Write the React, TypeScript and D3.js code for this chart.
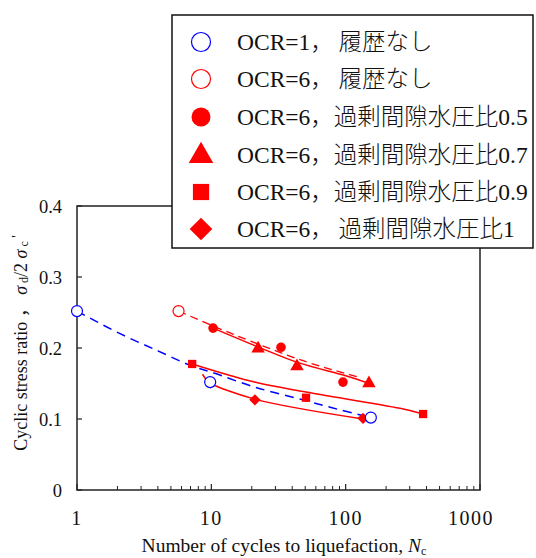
import React from "react";
import * as d3 from "d3";

// ---- data (N = cycles, R = cyclic stress ratio) ----
const blueOpenN = [1, 9.8, 154];
const blueOpenR = [0.252, 0.152, 0.102];
const redOpenN = [5.7];
const redOpenR = [0.252];
const circleN = [10.3, 33, 95.5];
const circleR = [0.228, 0.201, 0.152];
const triN = [22.3, 43.4, 149];
const triR = [0.2, 0.175, 0.151];
const sqN = [7.2, 50.7, 377];
const sqR = [0.1775, 0.13, 0.107];
const diaN = [9.9, 21.1, 134.6];
const diaR = [0.151, 0.127, 0.101];

// trend lines
const blueCurveN = [1, 2, 4, 7.3, 10, 21, 50, 90, 154];
const blueCurveR = [0.252, 0.222, 0.196, 0.174, 0.166, 0.145, 0.126, 0.113, 0.102];
const redDashN = [5.7, 10.3, 20, 50, 100, 130];
const redDashR = [0.252, 0.231, 0.209, 0.181, 0.164, 0.158];
const upperN = [10.3, 22, 45, 100, 150];
const upperR = [0.228, 0.202, 0.179, 0.161, 0.15];
const sqLineN = [7.2, 21, 50.7, 254, 377];
const sqLineR = [0.1775, 0.152, 0.138, 0.115, 0.107];
const diaLineN = [8.6, 9.3, 9.9, 21, 134.6];
const diaLineR = [0.163, 0.154, 0.15, 0.128, 0.1];

const xTicks = [1, 10, 100, 1000];
const yTicks = [0, 0.1, 0.2, 0.3, 0.4];

// legend: [latin prefix, CJK part, trailing number]
const legendPrefix = ["OCR=1", "OCR=6", "OCR=6", "OCR=6", "OCR=6", "OCR=6"];
const legendCjk = ["，\u2009履歴なし", "，\u2009履歴なし", "，過剰間隙水圧比", "，過剰間隙水圧比", "，過剰間隙水圧比", "，\u2009過剰間隙水圧比"];
const legendSuffix = ["", "", "0.5", "0.7", "0.9", "1"];

const RED = "#ff0000";
const BLUE = "#0000ff";
const SERIF = "'Liberation Serif', 'Times New Roman', 'DejaVu Serif', serif";
const CJK = "'Noto Sans CJK JP', sans-serif";

const x = d3.scaleLog().domain([1, 1000]).range([77, 480]);
const y = d3.scaleLinear().domain([0, 0.4]).range([490, 206]);

const zip = (a: number[], b: number[]) => a.map((v, i) => [v, b[i]] as [number, number]);
const line = d3
  .line<[number, number]>()
  .x((d) => x(d[0]))
  .y((d) => y(d[1]))
  .curve(d3.curveCatmullRom.alpha(0.5));

function Marker({ kind, cx, cy, s }: { kind: string; cx: number; cy: number; s: number }) {
  const sym = (t: d3.SymbolType, area: number) =>
    d3.symbol().type(t).size(area)() as string;
  if (kind === "blueOpen")
    return <circle cx={cx} cy={cy} r={s} fill="white" stroke={BLUE} strokeWidth={1.2} />;
  if (kind === "redOpen")
    return <circle cx={cx} cy={cy} r={s} fill="white" stroke={RED} strokeWidth={1.2} />;
  if (kind === "circle") return <circle cx={cx} cy={cy} r={s} fill={RED} />;
  if (kind === "tri")
    return (
      <path
        transform={`translate(${cx},${cy + s * 0.1})`}
        d={sym(d3.symbolTriangle, s * s * 2.6)}
        fill={RED}
      />
    );
  if (kind === "sq")
    return <rect x={cx - s * 0.9} y={cy - s * 0.9} width={s * 1.8} height={s * 1.8} fill={RED} />;
  return (
    <path
      transform={`translate(${cx},${cy}) rotate(45)`}
      d={`M${-s * 0.8},${-s * 0.8}h${s * 1.6}v${s * 1.6}h${-s * 1.6}z`}
      fill={RED}
    />
  );
}

export default function App() {
  const minorTicks: number[] = [];
  [1, 10, 100].forEach((d) => {
    for (let k = 2; k <= 9; k++) minorTicks.push(d * k);
  });
  const legendKinds = ["blueOpen", "redOpen", "circle", "tri", "sq", "dia"];
  const legendY = [42, 79, 117, 155, 192, 229];

  const series: [string, number[], number[]][] = [
    ["circle", circleN, circleR],
    ["tri", triN, triR],
    ["sq", sqN, sqR],
    ["dia", diaN, diaR],
    ["blueOpen", blueOpenN, blueOpenR],
    ["redOpen", redOpenN, redOpenR],
  ];
  const sizes: Record<string, number> = {
    blueOpen: 5.5,
    redOpen: 5.5,
    circle: 4.8,
    tri: 5.5,
    sq: 4.6,
    dia: 5.0,
  };

  return (
    <svg width={536} height={558} style={{ display: "block", position: "absolute", left: 0, top: 0 }} fontFamily={SERIF}>
      <rect width={536} height={558} fill="white" />
      {/* frame */}
      <rect x={77} y={206} width={403} height={284} fill="none" stroke="#222" strokeWidth={1.5} />
      {/* y ticks */}
      {yTicks.map((t) => (
        <g key={"y" + t}>
          <line x1={77} x2={82} y1={y(t)} y2={y(t)} stroke="#222" strokeWidth={1.2} />
          <text x={62} y={y(t) + 6.5} fontSize={18.5} fontFamily={SERIF} textAnchor="end" fill="#111">
            {t === 0 ? "0" : t.toFixed(1)}
          </text>
        </g>
      ))}
      {/* x ticks */}
      {minorTicks.map((t) => (
        <line key={"m" + t} x1={x(t)} x2={x(t)} y1={490} y2={486} stroke="#222" strokeWidth={1} />
      ))}
      {xTicks.map((t, i) => (
        <g key={"x" + t}>
          <line x1={x(t)} x2={x(t)} y1={490} y2={484} stroke="#222" strokeWidth={1.2} />
          <text
            x={x(t) + (i === xTicks.length - 1 ? -9 : 0)}
            y={525}
            fontSize={20}
            fontFamily={SERIF}
            letterSpacing={1.5}
            textAnchor="middle"
            fill="#111"
          >
            {String(t)}
          </text>
        </g>
      ))}
      {/* axis titles */}
      <text x={284} y={552} fontSize={19.5} fontFamily={SERIF} textAnchor="middle" fill="#111">
        Number of cycles to liquefaction,{" "}
        <tspan fontStyle="italic">N</tspan>
        <tspan fontSize={12} dy={3}>c</tspan>
      </text>
      <text transform="translate(27,343) rotate(-90)" fontSize={18} fontFamily={SERIF} textAnchor="middle" fill="#111">
        Cyclic stress ratio{"  "}
        <tspan fontFamily={CJK}>，</tspan>
        {"  "}
        <tspan fontStyle="italic">σ</tspan>
        <tspan fontSize={12} dy={1}> d</tspan>
        <tspan dy={-1}>/2 </tspan>
        <tspan fontStyle="italic">σ</tspan>
        <tspan fontSize={12} dy={1}> c</tspan>
        <tspan dy={-6} fontSize={14}> '</tspan>
      </text>

      {/* trend lines */}
      <path d={line(zip(blueCurveN, blueCurveR)) as string} fill="none" stroke={BLUE} strokeWidth={1.5} strokeDasharray="9,6" />
      <path d={line(zip(redDashN, redDashR)) as string} fill="none" stroke={RED} strokeWidth={1.3} strokeDasharray="8,5" />
      <path d={line(zip(upperN, upperR)) as string} fill="none" stroke={RED} strokeWidth={1.5} />
      <path d={line(zip(sqLineN, sqLineR)) as string} fill="none" stroke={RED} strokeWidth={1.5} />
      <path d={line(zip(diaLineN, diaLineR)) as string} fill="none" stroke={RED} strokeWidth={1.5} />

      {/* points */}
      {series.map(([kind, ns, rs]) =>
        ns.map((n, i) => (
          <Marker key={kind + i} kind={kind} cx={x(n)} cy={y(rs[i])} s={sizes[kind]} />
        ))
      )}

      {/* legend */}
      <rect x={172} y={15} width={361} height={233} fill="white" stroke="#111" strokeWidth={1.5} />
      {legendKinds.map((k, i) => (
        <g key={"lg" + i}>
          <Marker
            kind={k}
            cx={201}
            cy={legendY[i]}
            s={k.includes("Open") ? 9.5 : k === "circle" ? 9.5 : k === "sq" ? 9 : 10}
          />
          <text x={237} y={legendY[i] + 8} fontSize={23.5} fontFamily={SERIF} fill="#111">
            <tspan>{legendPrefix[i]}</tspan>
            <tspan fontFamily={CJK} fontWeight={300}>{legendCjk[i]}</tspan>
            <tspan>{legendSuffix[i]}</tspan>
          </text>
        </g>
      ))}
    </svg>
  );
}
